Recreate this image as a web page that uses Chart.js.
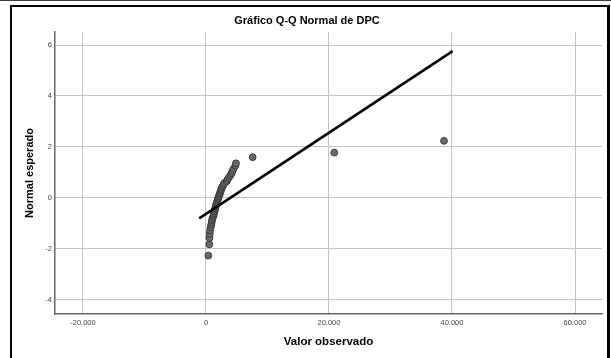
<!DOCTYPE html>
<html>
<head>
<meta charset="utf-8">
<script src="https://cdn.jsdelivr.net/npm/chart.js@4.4.1/dist/chart.umd.min.js"></script>
<style>
    html, body { margin: 0; padding: 0; background: #fff; }
    #topRule { position: absolute; left: 0; top: 0; width: 611px; height: 1px; background: #3a3a3a; }
    #frame {
        position: absolute; left: 10px; top: 5px; width: 595px; height: 360px;
        border-left: 2px solid #000; border-top: 2px solid #000; border-right: 3px solid #000;
    }
    #wrap { position: absolute; left: 0; top: 0; width: 611px; height: 358px; }
</style>
</head>
<body>
<div id="topRule"></div>
<div id="frame"></div>
<div id="wrap"><canvas id="qq" width="611" height="358"></canvas></div>
<script>
    // valores observados de DPC (ordenados) y su normal esperado
    const observedValues = [
        375, 540, 580, 620, 660, 760, 850, 920, 980, 1050,
        1190, 1260, 1320, 1400, 1460, 1510, 1570, 1650, 1720, 1790,
        1860, 1930, 2000, 2080, 2160, 2250, 2320, 2400, 2480, 2600,
        2720, 2850, 3000, 3360, 3500, 3700, 3950, 4150, 4300, 4500,
        4780, 4880, 7590, 20860, 38700
    ];
    const expectedNormal = [
        -2.26, -1.82, -1.57, -1.40, -1.27, -1.15, -1.05, -0.96, -0.88, -0.80,
        -0.72, -0.65, -0.59, -0.52, -0.46, -0.40, -0.34, -0.28, -0.22, -0.17,
        -0.11, -0.055, 0, 0.055, 0.11, 0.17, 0.22, 0.28, 0.34, 0.40,
        0.46, 0.52, 0.59, 0.65, 0.72, 0.80, 0.88, 0.96, 1.05, 1.15,
        1.27, 1.36, 1.60, 1.78, 2.24
    ];

    // recta de referencia normal
    const refLineX = [-1100, 40100];
    const refLineY = [-0.80, 5.76];

    const xTicks = [-20000, 0, 20000, 40000, 60000];
    const yTicks = [-4, -2, 0, 2, 4, 6];

    const points = observedValues.map((v, i) => ({ x: v, y: expectedNormal[i] }));
    const refLine = refLineX.map((v, i) => ({ x: v, y: refLineY[i] }));

    function miles(v) {
        return String(v).replace(/\B(?=(\d{3})+(?!\d))/g, ".");
    }

    const font = "'Liberation Sans', Arial, sans-serif";

    new Chart(document.getElementById("qq").getContext("2d"), {
        type: "scatter",
        data: {
            datasets: [
                {
                    label: "Observado",
                    data: points,
                    pointRadius: 3.4,
                    pointBackgroundColor: "#6a6a6a",
                    pointBorderColor: "#3a3a3a",
                    pointBorderWidth: 1,
                    order: 2
                },
                {
                    type: "line",
                    label: "Normal",
                    data: refLine,
                    borderColor: "#000",
                    borderWidth: 2.6,
                    pointRadius: 0,
                    fill: false,
                    order: 1
                }
            ]
        },
        options: {
            responsive: false,
            animation: false,
            layout: { padding: { left: 12, right: 9, top: 0, bottom: 0 } },
            plugins: {
                legend: { display: false },
                tooltip: { enabled: false },
                title: {
                    display: true,
                    text: "Gráfico Q-Q Normal de DPC",
                    color: "#000",
                    font: { family: font, size: 11, weight: "bold" },
                    padding: { top: 14, bottom: 4.8 }
                }
            },
            scales: {
                x: {
                    type: "linear",
                    min: -24550,
                    max: 64390,
                    afterBuildTicks: s => { s.ticks = xTicks.map(v => ({ value: v })); },
                    afterFit: s => { s.height = 44; },
                    grid: { color: "#c4c4c4", lineWidth: 1, drawTicks: false },
                    border: { color: "#666", width: 1.5 },
                    ticks: {
                        padding: 4,
                        color: "#444",
                        font: { family: font, size: 7.5 },
                        callback: v => miles(v)
                    },
                    title: {
                        display: true,
                        text: "Valor observado",
                        color: "#000",
                        font: { family: font, size: 11.5, weight: "bold" },
                        padding: { top: 0, bottom: 9.4 }
                    }
                },
                y: {
                    type: "linear",
                    min: -4.55,
                    max: 6.51,
                    afterBuildTicks: s => { s.ticks = yTicks.map(v => ({ value: v })); },
                    afterFit: s => { s.width = 43; },
                    grid: { color: "#c4c4c4", lineWidth: 1, drawTicks: false },
                    border: { color: "#666", width: 1.5 },
                    ticks: {
                        padding: 3,
                        color: "#444",
                        font: { family: font, size: 7.5 }
                    },
                    title: {
                        display: true,
                        text: "Normal esperado",
                        color: "#000",
                        font: { family: font, size: 11, weight: "bold" },
                        padding: { top: 11, bottom: 0 }
                    }
                }
            }
        }
    });
</script>
</body>
</html>
